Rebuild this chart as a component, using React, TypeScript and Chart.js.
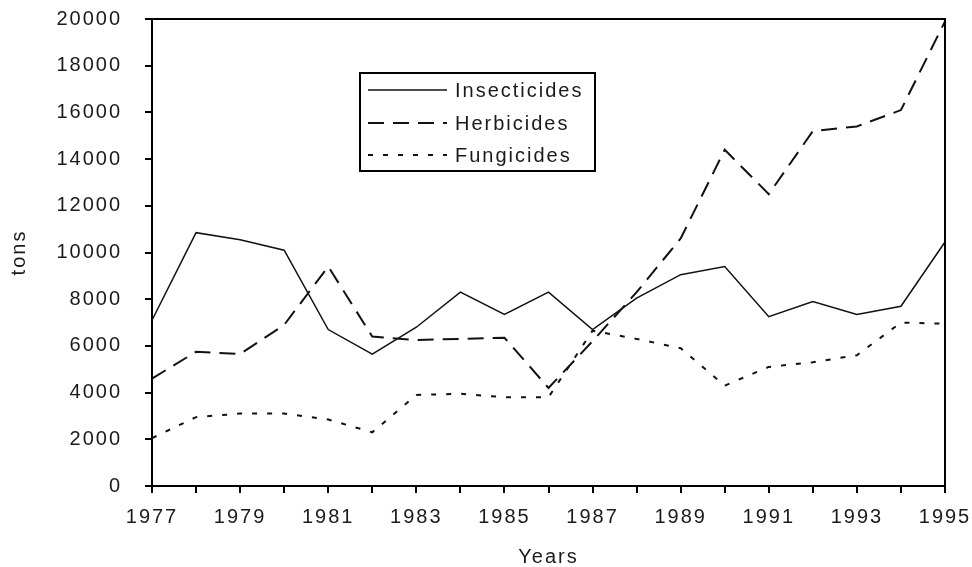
import React, { useEffect, useRef } from "react";
import { Chart, registerables } from "chart.js";

Chart.register(...registerables);

const years = ["1977","1978","1979","1980","1981","1982","1983","1984","1985","1986","1987","1988","1989","1990","1991","1992","1993","1994","1995"];
const insecticides = [7100, 10850, 10550, 10100, 6700, 5650, 6800, 8300, 7350, 8300, 6700, 8050, 9050, 9400, 7250, 7900, 7350, 7700, 10450];
const herbicides = [4600, 5750, 5650, 6900, 9400, 6400, 6250, 6300, 6350, 4200, 6200, 8300, 10600, 14400, 12500, 15200, 15400, 16100, 19900];
const fungicides = [2050, 2950, 3100, 3100, 2850, 2300, 3900, 3950, 3800, 3800, 6650, 6300, 5900, 4300, 5100, 5300, 5600, 7000, 6950];
const yMin = 0;
const yMax = 20000;
const yStep = 2000;

const FONT = "Arial, 'Liberation Sans', sans-serif";
const TEXT = "#1a1a1a";
const LS = "2px";

const spacingPlugin = {
  id: "spacing",
  beforeUpdate(chart: any) { chart.ctx.letterSpacing = LS; },
  beforeLayout(chart: any) { chart.ctx.letterSpacing = LS; },
  beforeDraw(chart: any) { chart.ctx.letterSpacing = LS; },
};

const framePlugin = {
  id: "frame",
  afterDraw(chart: any) {
    const { ctx, chartArea } = chart;
    ctx.save();
    ctx.strokeStyle = "#000";
    ctx.lineWidth = 2;
    ctx.beginPath();
    ctx.moveTo(chartArea.left, chartArea.top);
    ctx.lineTo(chartArea.right, chartArea.top);
    ctx.lineTo(chartArea.right, chartArea.bottom);
    ctx.stroke();
    ctx.restore();
  },
};

const legendPlugin = {
  id: "boxLegend",
  afterDraw(chart: any) {
    const { ctx } = chart;
    const bx = 360, by = 73, bw = 235, bh = 98;
    ctx.save();
    ctx.fillStyle = "#fff";
    ctx.fillRect(bx, by, bw, bh);
    ctx.strokeStyle = "#000";
    ctx.lineWidth = 2;
    ctx.strokeRect(bx, by, bw, bh);
    ctx.font = `20px ${FONT}`;
    ctx.letterSpacing = LS;
    ctx.textBaseline = "middle";
    ctx.textAlign = "left";
    const rows = [90, 123, 155];
    chart.data.datasets.forEach((ds: any, i: number) => {
      const y = rows[i];
      ctx.strokeStyle = ds.borderColor;
      ctx.lineWidth = ds.borderWidth;
      ctx.setLineDash(ds.borderDash || []);
      ctx.beginPath();
      ctx.moveTo(368, y);
      ctx.lineTo(447, y);
      ctx.stroke();
      ctx.setLineDash([]);
      ctx.fillStyle = TEXT;
      ctx.fillText(ds.label, 455, y + 1);
    });
    ctx.restore();
  },
};

export default function App() {
  const ref = useRef<HTMLCanvasElement>(null);
  useEffect(() => {
    if (!ref.current) return;
    const chart = new Chart(ref.current, {
      type: "line",
      data: {
        labels: years,
        datasets: [
          { label: "Insecticides", data: insecticides, borderColor: "#111", borderWidth: 1.5, pointRadius: 0, tension: 0, fill: false },
          { label: "Herbicides", data: herbicides, borderColor: "#111", borderWidth: 2, borderDash: [16, 9], pointRadius: 0, tension: 0, fill: false },
          { label: "Fungicides", data: fungicides, borderColor: "#111", borderWidth: 2, borderDash: [5, 10], pointRadius: 0, tension: 0, fill: false },
        ],
      },
      options: {
        animation: false,
        responsive: false,
        maintainAspectRatio: false,
        layout: { padding: { top: 19, right: 27, left: 0, bottom: 0 } },
        plugins: { legend: { display: false }, tooltip: { enabled: false } },
        scales: {
          x: {
            type: "category",
            offset: false,
            afterFit(scale: any) { scale.height = 81; scale.paddingLeft = 0; scale.paddingRight = 0; },
            grid: { drawOnChartArea: false, color: "#000", tickLength: 7, tickWidth: 2, lineWidth: 2 },
            border: { color: "#000", width: 2 },
            ticks: {
              autoSkip: false,
              maxRotation: 0,
              minRotation: 0,
              padding: 12,
              color: TEXT,
              font: { family: FONT, size: 20 },
              callback(_v: any, idx: number) { return idx % 2 === 0 ? years[idx] : ""; },
            },
            title: { display: true, text: "Years", color: TEXT, font: { family: FONT, size: 20 }, padding: { top: 0, bottom: -2 } },
          },
          y: {
            min: yMin,
            max: yMax,
            afterFit(scale: any) { scale.width = 152; scale.paddingTop = 0; scale.paddingBottom = 0; },
            grid: { drawOnChartArea: false, color: "#000", tickLength: 7, tickWidth: 2, lineWidth: 2 },
            border: { color: "#000", width: 2 },
            ticks: { stepSize: yStep, padding: 23, color: TEXT, font: { family: FONT, size: 20 }, callback(v: any) { return String(v); } },
            title: { display: true, text: "tons", color: TEXT, font: { family: FONT, size: 20 }, padding: { top: 7, bottom: 0 } },
          },
        },
      },
      plugins: [spacingPlugin, framePlugin, legendPlugin],
    } as any);
    return () => chart.destroy();
  }, []);
  return (
    <div style={{ position: "absolute", left: 0, top: 0, width: 972, height: 567, background: "#fff" }}>
      <canvas ref={ref} width={972} height={567} style={{ display: "block" }} />
    </div>
  );
}
